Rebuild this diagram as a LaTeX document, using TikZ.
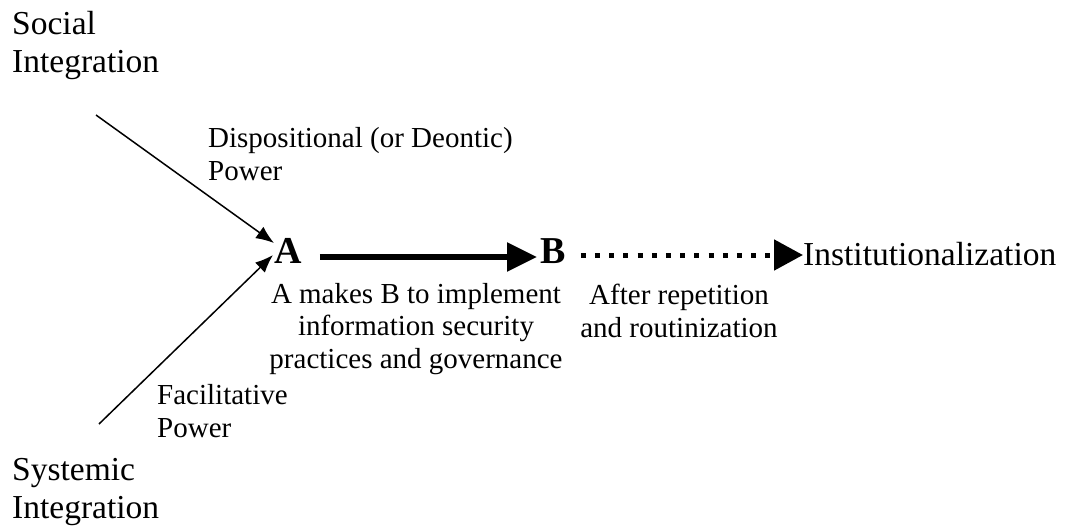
\documentclass[tikz,border=0pt]{standalone}
\usepackage{fontspec}
\setmainfont{Liberation Serif}
\usetikzlibrary{arrows.meta,calc}
\tikzset{
  bigtext/.style={font=\fontsize{33.5}{38}\selectfont, inner sep=0pt, align=left},
  smalltext/.style={font=\fontsize{29}{32.5}\selectfont, inner sep=0pt},
  letter/.style={font=\fontsize{38}{40}\selectfont\bfseries, inner sep=0pt},
  thinarrow/.style={line width=1.5pt, -{Latex[length=18pt,width=14pt]}},
  thickarrow/.style={line width=5.5pt, -{Triangle[length=30pt,width=28pt]}},
  dotarrow/.style={line width=5pt, dash pattern=on 5pt off 9.2pt, -{Triangle[length=29pt,width=30pt]}},
}
\begin{document}
\begin{tikzpicture}[x=1pt,y=-1pt]
\useasboundingbox (0,0) rectangle (1066,527);
% labels (base anchor = baseline of the last line)
\node[bigtext, anchor=base west] (social) at (12,73) {Social\\Integration};
\node[bigtext, anchor=base west] (systemic) at (12,518) {Systemic\\Integration};
\node[smalltext, align=left, anchor=base west] (disp) at (208,180) {Dispositional (or Deontic)\\Power};
\node[smalltext, align=left, anchor=base west] (facil) at (157,437) {Facilitative\\Power};
\node[letter, anchor=base west] (A) at (274,263) {A};
\node[letter, anchor=base west] (B) at (540,263) {B};
\node[bigtext, anchor=base west] (inst) at (803,265) {Institutionalization};
\node[smalltext, align=center, anchor=base] (makes) at (416,368) {A makes B to implement\\information security\\practices and governance};
\node[smalltext, align=center, anchor=base] (after) at (679,337) {After repetition\\and routinization};
% connectors
\coordinate (sstart) at (96,115);
\coordinate (ystart) at (99,424);
\draw[thinarrow] (sstart) -- ($(A.base west)+(0,-20)$);
\draw[thinarrow] (ystart) -- ($(A.base west)+(-1,-8)$);
\draw[thickarrow] ($(A.base east)+(18,-6)$) -- ($(B.base west)+(-3,-6)$);
\draw[dotarrow] ($(B.base east)+(15,-8)$) -- ($(inst.base west)+(0,-10)$);
\end{tikzpicture}
\end{document}
